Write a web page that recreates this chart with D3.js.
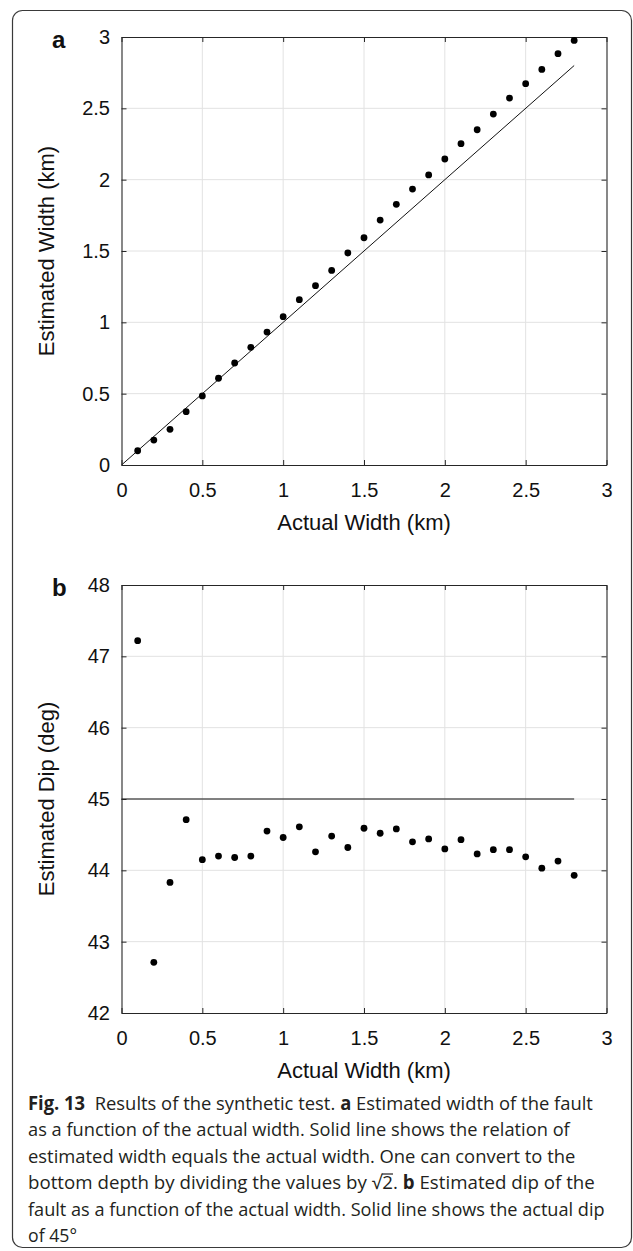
<!DOCTYPE html>
<html><head><meta charset="utf-8">
<script src="https://cdn.jsdelivr.net/npm/d3@7"></script>
<style>body{margin:0;background:#fff}</style>
</head><body>
<svg id="c" width="633" height="1251"></svg>
<script>
// ---- data ----
const actualWidth = [0.1,0.2,0.3,0.4,0.5,0.6,0.7,0.8,0.9,1.0,1.1,1.2,1.3,1.4,1.5,1.6,1.7,1.8,1.9,2.0,2.1,2.2,2.3,2.4,2.5,2.6,2.7,2.8];
const estWidth = [0.100,0.175,0.250,0.374,0.484,0.608,0.715,0.825,0.932,1.040,1.159,1.257,1.364,1.486,1.593,1.717,1.827,1.934,2.033,2.145,2.252,2.350,2.460,2.572,2.673,2.773,2.883,2.976];
const estDip = [47.22,42.71,43.83,44.71,44.15,44.20,44.18,44.20,44.55,44.46,44.61,44.26,44.48,44.32,44.59,44.52,44.58,44.40,44.44,44.30,44.43,44.23,44.29,44.29,44.19,44.03,44.13,43.93];
const refLineAX = [0, 2.8];
const refLineAY = [0, 2.8];
const refLineBX = [0, 2.8];
const refLineBY = [45, 45];
const xTicks = [0,0.5,1,1.5,2,2.5,3];
const xTickLabels = ["0","0.5","1","1.5","2","2.5","3"];
const yTicksA = [0,0.5,1,1.5,2,2.5,3];
const yTickLabelsA = ["0","0.5","1","1.5","2","2.5","3"];
const yTicksB = [42,43,44,45,46,47,48];
const yTickLabelsB = ["42","43","44","45","46","47","48"];
const xTitle = "Actual Width (km)";
const yTitleA = "Estimated Width (km)";
const yTitleB = "Estimated Dip (deg)";

const svg = d3.select("#c");
const FONT = "'Liberation Sans', Arial, Helvetica, sans-serif";

// frame
svg.append("rect").attr("x",12.5).attr("y",10.5).attr("width",619).attr("height",1237)
  .attr("rx",10).attr("fill","none").attr("stroke","#3a3a3a").attr("stroke-width",1.2);

function panel(opts){
  const {xs, ys, yTicks, yLabels, label, yTitle, pts, lineX, lineY} = opts;
  const g = svg.append("g");
  const [x0,x1] = xs.range();
  const [y0,y1] = ys.range(); // y0 bottom, y1 top
  // grid
  g.append("g").selectAll("line").data(xTicks.slice(1,-1)).join("line")
    .attr("x1",d=>xs(d)).attr("x2",d=>xs(d)).attr("y1",y1).attr("y2",y0)
    .attr("stroke","#e2e2e2").attr("stroke-width",1);
  g.append("g").selectAll("line").data(yTicks.slice(1,-1)).join("line")
    .attr("y1",d=>ys(d)).attr("y2",d=>ys(d)).attr("x1",x0).attr("x2",x1)
    .attr("stroke","#e2e2e2").attr("stroke-width",1);
  // reference line
  const line = d3.line().x(d=>xs(d[0])).y(d=>ys(d[1]));
  g.append("path").attr("d", line(lineX.map((v,i)=>[v,lineY[i]])))
    .attr("fill","none").attr("stroke","#111").attr("stroke-width",1);
  // axes
  const bottom = g.append("g").attr("transform",`translate(0,${y0})`)
    .call(d3.axisBottom(xs).tickValues(xTicks).tickFormat((d,i)=>xTickLabels[i]).tickSize(-5).tickSizeOuter(0).tickPadding(18));
  const top = g.append("g").attr("transform",`translate(0,${y1})`)
    .call(d3.axisTop(xs).tickValues(xTicks).tickFormat("").tickSize(-5).tickSizeOuter(0));
  const left = g.append("g").attr("transform",`translate(${x0},0)`)
    .call(d3.axisLeft(ys).tickValues(yTicks).tickFormat((d,i)=>yLabels[i]).tickSize(-5).tickSizeOuter(0).tickPadding(11.5));
  const right = g.append("g").attr("transform",`translate(${x1},0)`)
    .call(d3.axisRight(ys).tickValues(yTicks).tickFormat("").tickSize(-5).tickSizeOuter(0));
  [bottom,top,left,right].forEach(a=>{
    a.selectAll("path.domain").attr("stroke","#262626").attr("stroke-width",1.1);
    a.selectAll(".tick line").attr("stroke","#262626");
    a.selectAll("text").attr("font-family",FONT).attr("font-size",20).attr("fill","#111");
  });
  // points
  g.append("g").selectAll("circle").data(pts).join("circle")
    .attr("cx",d=>xs(d[0])).attr("cy",d=>ys(d[1])).attr("r",3.4).attr("fill","#000");
  // titles
  g.append("text").attr("x",(x0+x1)/2).attr("y",y0+65).attr("text-anchor","middle")
    .attr("font-family",FONT).attr("font-size",22).attr("fill","#111").text(xTitle);
  g.append("text").attr("transform",`translate(54,${(y0+y1)/2}) rotate(-90)`).attr("text-anchor","middle")
    .attr("font-family",FONT).attr("font-size",22).attr("fill","#111").text(yTitle);
  g.append("text").attr("x",52).attr("y",y1+11).attr("font-family",FONT).attr("font-weight","bold")
    .attr("font-size",24).attr("fill","#111").text(label);
}

const xA = d3.scaleLinear().domain([0,3]).range([121.5,606.5]);
const yA = d3.scaleLinear().domain([0,3]).range([465,37]);
panel({xs:xA, ys:yA, yTicks:yTicksA, yLabels:yTickLabelsA, label:"a", yTitle:yTitleA,
  pts: actualWidth.map((v,i)=>[v,estWidth[i]]), lineX:refLineAX, lineY:refLineAY});

const xB = d3.scaleLinear().domain([0,3]).range([121.5,606.5]);
const yB = d3.scaleLinear().domain([42,48]).range([1013,585]);
panel({xs:xB, ys:yB, yTicks:yTicksB, yLabels:yTickLabelsB, label:"b", yTitle:yTitleB,
  pts: actualWidth.map((v,i)=>[v,estDip[i]]), lineX:refLineBX, lineY:refLineBY});

// caption
const capLines = [
  {len:565, segs:[["Fig. 13",true],["  Results of the synthetic test. ",false],["a",true],[" Estimated width of the fault",false]]},
  {len:542, segs:[["as a function of the actual width. Solid line shows the relation of",false]]},
  {len:548, segs:[["estimated width equals the actual width. One can convert to the",false]]},
  {len:567, segs:[["bottom depth by dividing the values by √",false],["2",false,true],[". ",false],["b",true],[" Estimated dip of the",false]]},
  {len:577, segs:[["fault as a function of the actual width. Solid line shows the actual dip",false]]},
  {len:49, segs:[["of 45°",false]]}
];
const cap = svg.append("g").attr("font-family","'Open Sans', 'Noto Sans', sans-serif").attr("font-size",19).attr("fill","#231f20");
capLines.forEach((ln,i)=>{
  const lg = cap.append("g");
  let cx = 0;
  ln.segs.forEach(s=>{
    const t = lg.append("text").attr("x",cx).attr("y",0).style("white-space","pre").text(s[0]);
    if(s[1]) t.attr("font-weight","bold");
    const w = t.node().getComputedTextLength();
    if(s[2]) {
      // radical vinculum over the radicand
      lg.append("line").attr("x1",cx-0.5).attr("x2",cx+w).attr("y1",-15.2).attr("y2",-15.2)
        .attr("stroke","#231f20").attr("stroke-width",1.2);
    }
    cx += w;
  });
  const sx = ln.len / cx;
  lg.attr("transform",`translate(28,${1110+i*26.4}) scale(${sx},1)`);
});
</script>
</body></html>
